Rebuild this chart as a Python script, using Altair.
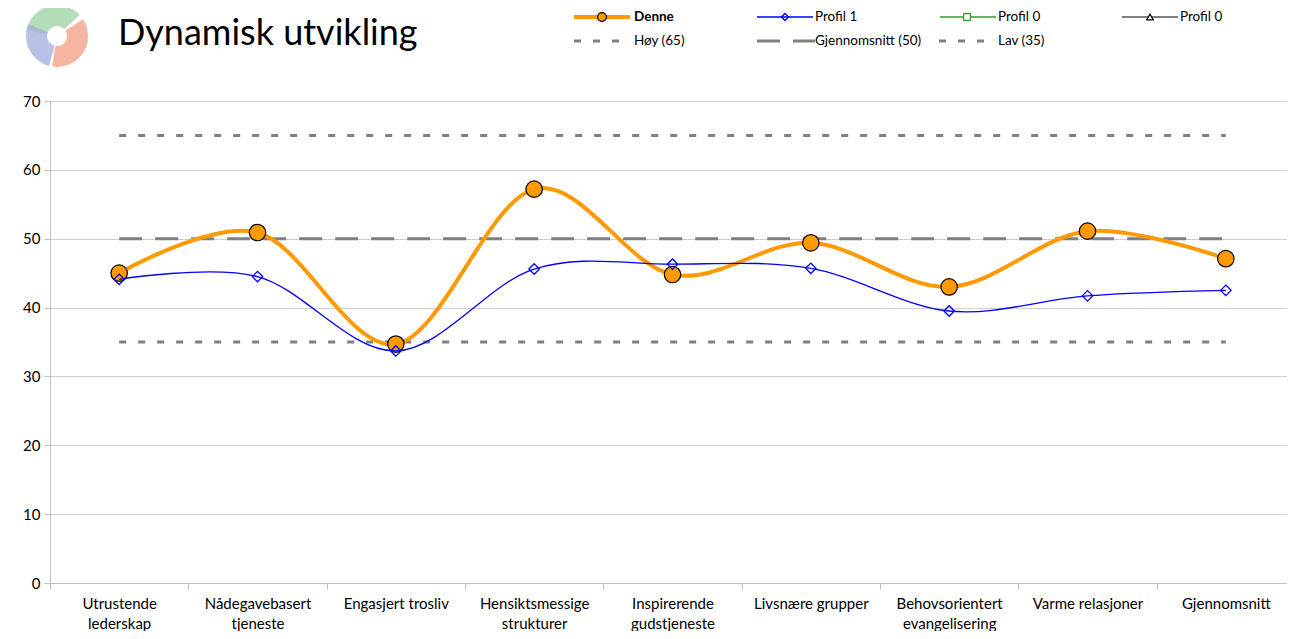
import altair as alt
import pandas as pd

# ---------------- data ----------------
categories = [
    "Utrustende lederskap", "Nådegavebasert tjeneste", "Engasjert trosliv",
    "Hensiktsmessige strukturer", "Inspirerende gudstjeneste", "Livsnære grupper",
    "Behovsorientert evangelisering", "Varme relasjoner", "Gjennomsnitt",
]
label_lines = [
    ["Utrustende", "lederskap"], ["Nådegavebasert", "tjeneste"], ["Engasjert trosliv"],
    ["Hensiktsmessige", "strukturer"], ["Inspirerende", "gudstjeneste"], ["Livsnære grupper"],
    ["Behovsorientert", "evangelisering"], ["Varme relasjoner"], ["Gjennomsnitt"],
]
denne = [45.0, 50.9, 34.7, 57.2, 44.8, 49.4, 43.0, 51.1, 47.1]
profil1 = [44.1, 44.5, 33.7, 45.6, 46.3, 45.7, 39.5, 41.7, 42.5]
ref_names = ["Høy (65)", "Gjennomsnitt (50)", "Lav (35)"]
ref_values = [65, 50, 35]
y_ticks = [0, 10, 20, 30, 40, 50, 60, 70]

FONT = "Lato"
ORANGE = "#FF9900"
BLUE = "#0000FF"
GREY = "#808080"

idx = list(range(len(categories)))
df = pd.DataFrame({"idx": idx, "kategori": categories, "Denne": denne, "Profil 1": profil1})
ref_df = pd.DataFrame({"navn": ref_names, "verdi": ref_values,
                       "x0": [0] * 3, "x1": [len(categories) - 1] * 3})

W = 1237
xscale = alt.Scale(domain=[-0.5, len(categories) - 0.5], range=[0, 1245], nice=False, zero=False)
yscale = alt.Scale(domain=[0, 70], nice=False)

label_expr = "[" + ",".join("[" + ",".join("'" + s + "'" for s in l) + "]" for l in label_lines) + "][datum.value]"

base = alt.Chart(df)
X = alt.X("idx:Q", scale=xscale, axis=None)

# axes carrier layers
x_ticks_layer = base.mark_point(opacity=0).encode(
    x=alt.X("idx:Q", scale=xscale, axis=alt.Axis(
        values=[i - 0.5 for i in range(len(categories) + 1)], labels=False, ticks=True,
        tickSize=6, tickColor="#bfbfbf", domain=True, domainColor="#bfbfbf", grid=False,
        title=None, orient="bottom")),
    y=alt.Y("Denne:Q", scale=yscale, axis=alt.Axis(
        values=y_ticks, grid=True, gridColor="#cfcfcf", tickColor="#bfbfbf", tickSize=6,
        domainColor="#bfbfbf", labelFont=FONT, labelFontSize=15, labelColor="black",
        labelPadding=4, title=None)),
)
x_labels_layer = base.mark_point(opacity=0).encode(
    x=alt.X("idx:Q", scale=xscale, axis=alt.Axis(
        values=idx, labelExpr=label_expr, ticks=False, domain=False, grid=False,
        labelFont=FONT, labelFontSize=15, labelColor="black", labelPadding=13,
        labelLineHeight=20, labelBaseline="top", labelOverlap=False, labelFlush=False, title=None,
        orient="bottom")),
    y=alt.Y("Denne:Q", scale=yscale),
)

refs = alt.Chart(ref_df).mark_rule(strokeWidth=3, color=GREY).encode(
    x=alt.X("x0:Q", scale=xscale, axis=None), x2="x1:Q",
    y=alt.Y("verdi:Q", scale=yscale),
    strokeDash=alt.StrokeDash("navn:N", scale=alt.Scale(
        domain=ref_names, range=[[7, 12], [23, 13], [7, 12]]), legend=None),
)

denne_line = base.mark_line(color=ORANGE, strokeWidth=4, interpolate="cardinal", tension=0).encode(
    x=X, y=alt.Y("Denne:Q", scale=yscale))
denne_pts = base.mark_point(shape="circle", filled=True, fill=ORANGE, stroke="black",
                            strokeWidth=1.2, size=270, opacity=1).encode(
    x=X, y=alt.Y("Denne:Q", scale=yscale))
p1_line = base.mark_line(color=BLUE, strokeWidth=1.3, interpolate="cardinal", tension=0).encode(
    x=X, y=alt.Y("Profil 1:Q", scale=yscale))
p1_pts = base.mark_point(shape="diamond", filled=False, stroke=BLUE, strokeWidth=1.3,
                         size=110, opacity=1).encode(
    x=X, y=alt.Y("Profil 1:Q", scale=yscale))

# ---------------- title + logo ----------------
one = pd.DataFrame({"a": [0]})
title = alt.Chart(one).mark_text(text="Dynamisk utvikling", font=FONT, fontSize=36,
                                 align="left", baseline="middle", color="black").encode(
    x=alt.value(68), y=alt.value(-67))

logo_parts = []
for t0, t1, col in [(4.9, 7.1, "#9fd4a4"), (3.4, 5.1, "#a6b0de"), (1.0, 3.3, "#f2a48a")]:
    logo_parts.append(alt.Chart(one).mark_arc(theta=t0, theta2=t1, radius=10, radius2=31,
                                              color=col, opacity=0.8).encode(
        x=alt.value(7), y=alt.value(-65)))

# ---------------- legend ----------------
def leg_line(x0, x1, y, color, width, dash=None):
    kw = dict(color=color, strokeWidth=width)
    if dash:
        kw["strokeDash"] = dash
    return alt.Chart(one).mark_rule(**kw).encode(x=alt.value(x0), x2=alt.value(x1), y=alt.value(y))

def leg_text(x, y, txt, bold=False):
    return alt.Chart(one).mark_text(text=txt, font=FONT, fontSize=13.5, align="left",
                                    baseline="middle", color="black",
                                    fontWeight="bold" if bold else "normal").encode(
        x=alt.value(x), y=alt.value(y))

def leg_pt(x, y, shape, stroke, fill, size, filled):
    kw = dict(shape=shape, stroke=stroke, strokeWidth=1.2, size=size, opacity=1, filled=filled)
    if fill:
        kw["fill"] = fill
    return alt.Chart(one).mark_point(**kw).encode(x=alt.value(x), y=alt.value(y))

r1, r2 = -84, -60
legend = [
    leg_line(524, 580, r1, ORANGE, 4), leg_pt(552, r1, "circle", "black", ORANGE, 80, True),
    leg_text(584, r1, "Denne", True),
    leg_line(707, 763, r1, BLUE, 1.3), leg_pt(735, r1, "diamond", BLUE, None, 50, False),
    leg_text(765, r1, "Profil 1"),
    leg_line(890, 946, r1, "#2e9e2e", 1.3), leg_pt(917, r1, "square", "#2e9e2e", "white", 45, True),
    leg_text(948, r1, "Profil 0"),
    leg_line(1072, 1128, r1, "black", 1.2), leg_pt(1100, r1, "triangle-up", "black", "white", 45, True),
    leg_text(1130, r1, "Profil 0"),
    leg_line(524, 572, r2, GREY, 3, [7, 12]), leg_text(584, r2, "Høy (65)"),
    leg_line(707, 765, r2, GREY, 3, [23, 13]), leg_text(765, r2, "Gjennomsnitt (50)"),
    leg_line(889, 935, r2, GREY, 3, [7, 12]), leg_text(948, r2, "Lav (35)"),
]

chart = alt.layer(
    x_ticks_layer, x_labels_layer, refs, denne_line, denne_pts, p1_line, p1_pts,
    title, *logo_parts, *legend,
).resolve_axis(x="independent").properties(
    width=W, height=482,
    autosize=alt.AutoSizeParams(type="none"),
    padding={"left": 42, "top": 93, "right": 0, "bottom": 48},
).configure_view(stroke=None)

chart.save("out.html", embed_options={"renderer": "svg", "actions": False})
